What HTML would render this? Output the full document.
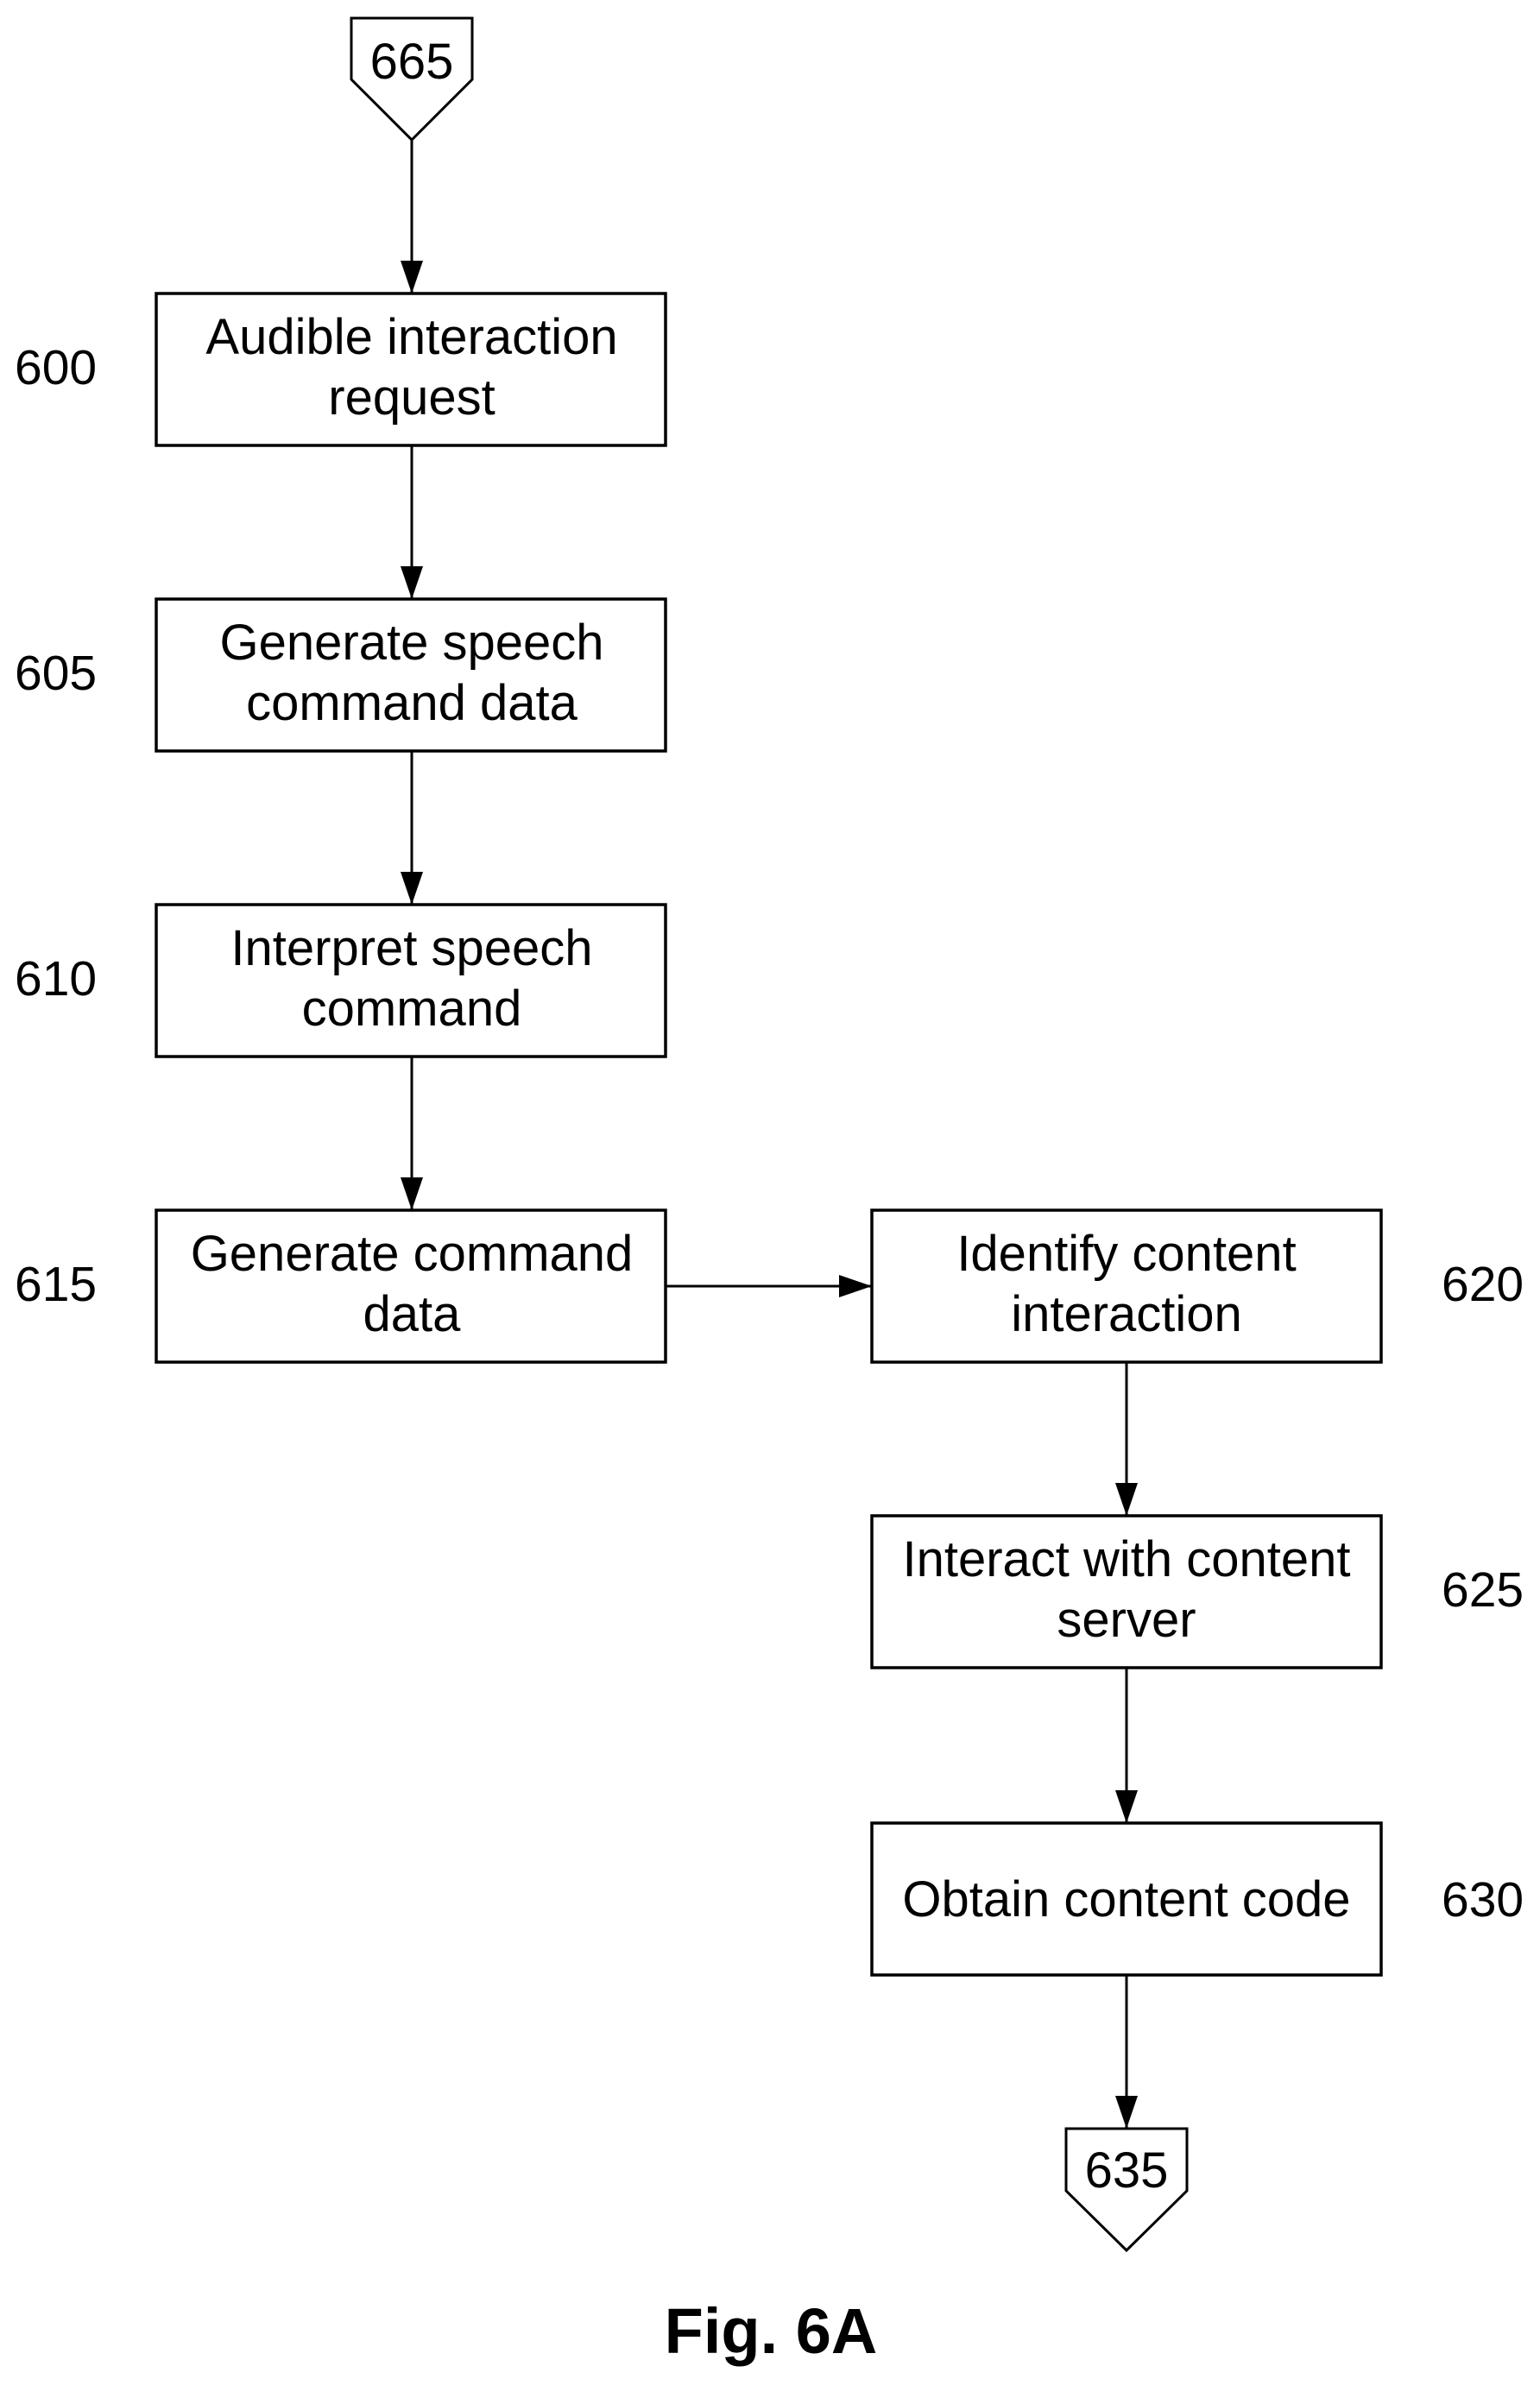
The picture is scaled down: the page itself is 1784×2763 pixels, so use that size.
<!DOCTYPE html>
<html><head><meta charset="utf-8"><style>
html,body{margin:0;padding:0;background:#fff;}
svg{display:block;}
text{font-family:"Liberation Sans",Arial,sans-serif;fill:#000;}
</style></head><body>
<svg width="1784" height="2763" viewBox="0 0 1784 2763" xmlns="http://www.w3.org/2000/svg">
<defs>
<marker id="ah" markerWidth="38" markerHeight="26" refX="38" refY="13" orient="auto" markerUnits="userSpaceOnUse">
<path d="M0,0 L38,13 L0,26 Z" fill="#000"/>
</marker>
</defs>
<g fill="none" stroke="#000" stroke-width="3.5">
<polygon points="407,21 547,21 547,92 477,162 407,92" stroke-width="3"/>
<rect x="181" y="340" width="590" height="176"/>
<rect x="181" y="694" width="590" height="176"/>
<rect x="181" y="1048" width="590" height="176"/>
<rect x="181" y="1402" width="590" height="176"/>
<rect x="1010" y="1402" width="590" height="176"/>
<rect x="1010" y="1756" width="590" height="176"/>
<rect x="1010" y="2112" width="590" height="176"/>
<polygon points="1235,2466 1375,2466 1375,2538 1305,2607 1235,2538" stroke-width="3"/>
</g>
<g stroke="#000" stroke-width="3" fill="none">
<line x1="477" y1="162" x2="477" y2="340" marker-end="url(#ah)"/>
<line x1="477" y1="516" x2="477" y2="694" marker-end="url(#ah)"/>
<line x1="477" y1="870" x2="477" y2="1048" marker-end="url(#ah)"/>
<line x1="477" y1="1224" x2="477" y2="1402" marker-end="url(#ah)"/>
<line x1="771" y1="1490" x2="1010" y2="1490" marker-end="url(#ah)"/>
<line x1="1305" y1="1578" x2="1305" y2="1756" marker-end="url(#ah)"/>
<line x1="1305" y1="1932" x2="1305" y2="2112" marker-end="url(#ah)"/>
<line x1="1305" y1="2288" x2="1305" y2="2466" marker-end="url(#ah)"/>
</g>
<g font-size="58" text-anchor="middle">
<text x="477" y="91">665</text>
<text x="477" y="410">Audible interaction</text>
<text x="477" y="480">request</text>
<text x="477" y="764">Generate speech</text>
<text x="477" y="834">command data</text>
<text x="477" y="1118">Interpret speech</text>
<text x="477" y="1188">command</text>
<text x="477" y="1472">Generate command</text>
<text x="477" y="1542">data</text>
<text x="1305" y="1472">Identify content</text>
<text x="1305" y="1542">interaction</text>
<text x="1305" y="1826">Interact with content</text>
<text x="1305" y="1896">server</text>
<text x="1305" y="2220">Obtain content code</text>
<text x="1305" y="2534">635</text>
</g>
<g font-size="57">
<text x="17" y="445">600</text>
<text x="17" y="799">605</text>
<text x="17" y="1153">610</text>
<text x="17" y="1507">615</text>
<text x="1670" y="1507">620</text>
<text x="1670" y="1861">625</text>
<text x="1670" y="2220">630</text>
</g>
<text x="893" y="2726" font-size="74" font-weight="bold" text-anchor="middle">Fig. 6A</text>
</svg>
</body></html>
